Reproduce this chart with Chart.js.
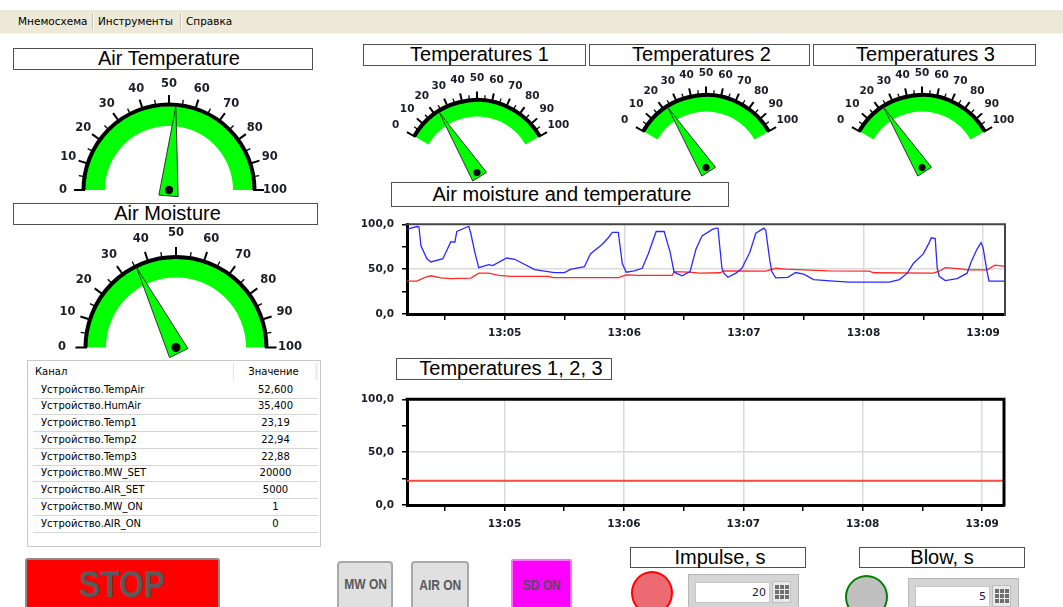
<!DOCTYPE html>
<html lang="ru"><head><meta charset="utf-8"><title>Мнемосхема</title>
<script src="https://cdn.jsdelivr.net/npm/chart.js@4.4.1/dist/chart.umd.min.js"></script>
<style>
html,body{margin:0;padding:0;background:#fff}
body{position:relative;width:1063px;height:607px;overflow:hidden;font-family:"DejaVu Sans",Verdana,sans-serif}
#menu{position:absolute;left:0;top:10px;width:1063px;height:23px;background:#ece9d8;border-bottom:1px solid #f4f3ee}
.mi{position:absolute;top:0;line-height:23px;font-size:10.5px;color:#000}
.ms{position:absolute;top:3px;width:1px;height:17px;background:#c8c5b6;box-shadow:1px 0 0 #fff}
.tb{position:absolute;box-sizing:border-box;border:1.5px solid #505050;background:#fff;font-family:"Liberation Sans",Arial,sans-serif;font-size:20px;text-align:center;color:#000;white-space:nowrap}
canvas{position:absolute}
#tbl{position:absolute;left:27px;top:360px;width:292px;height:185px;border:1px solid #c9c9c9;background:#fff;font-size:10px;color:#000}
.row{position:absolute;left:5px;width:285px;height:16px;border-bottom:1px solid #d6d6d6}
.c1{position:absolute;left:8px;top:0;line-height:16px;white-space:nowrap}
.c2{position:absolute;left:200px;width:85px;top:0;line-height:16px;text-align:center}
.btn{position:absolute;box-sizing:border-box;text-align:center;font-family:"Liberation Sans",Arial,sans-serif;font-weight:bold;color:#5a5a5a;overflow:hidden;white-space:nowrap}
.btn span{display:inline-block}
.panel{position:absolute;box-sizing:border-box;background:#d5d5d5;border:1px solid #b6b6b6}
.field{position:absolute;box-sizing:border-box;background:#fff;border:1px solid #c6c6c6;font-size:11px;color:#1a1a3a;text-align:right;padding-right:3px;line-height:19px}
.kp{position:absolute;box-sizing:border-box;width:19px;height:22px;background:#e9e9e9;border:1px solid #bdbdbd;display:grid;grid-template-columns:4px 4px 4px;grid-auto-rows:4px;gap:1px;padding:3px 2px;justify-content:center;align-content:center}
.kp i{display:block;background:#6e6e6e}
</style></head><body>

<div id="menu">
  <div class="mi" style="left:18px">Мнемосхема</div>
  <div class="ms" style="left:92px"></div>
  <div class="mi" style="left:98px">Инструменты</div>
  <div class="ms" style="left:180px"></div>
  <div class="mi" style="left:186px">Справка</div>
</div>

<div id="titles"></div>
<div id="tbl"></div>

<div class="btn" style="left:25px;top:558px;width:195px;height:56px;background:#ff0000;border:2px solid #8c8c8c;border-radius:3px;font-size:37px;line-height:50px"><span style="transform:scaleX(0.86)">STOP</span></div>
<div class="btn" style="left:337px;top:561px;width:56px;height:52px;background:#e0e0e0;border:2px solid #a9a9a9;border-radius:4px;font-size:15px;line-height:42px"><span style="transform:scaleX(0.8)">MW ON</span></div>
<div class="btn" style="left:411px;top:561px;width:58px;height:52px;background:#e0e0e0;border:2px solid #a9a9a9;border-radius:4px;font-size:15px;line-height:44px"><span style="transform:scaleX(0.8)">AIR ON</span></div>
<div class="btn" style="left:511px;top:559px;width:61px;height:54px;background:#ff00ff;border:2px solid #ff70ff;border-radius:2px;font-size:15px;line-height:48px;color:#5a4a5a"><span style="transform:scaleX(0.8)">SD ON</span></div>

<div style="position:absolute;left:631px;top:571px;width:42px;height:44px;box-sizing:border-box;border-radius:50%;background:#ec6b72;border:2px solid #ff0000"></div>
<div class="panel" style="left:688px;top:574px;width:111px;height:40px"></div>
<div class="field" style="left:695px;top:582px;width:75px;height:21px" id="impulseField"></div>
<div class="kp" style="left:772px;top:581px"><i></i><i></i><i></i><i></i><i></i><i></i><i></i><i></i><i></i></div>

<div style="position:absolute;left:845px;top:575px;width:43px;height:44px;box-sizing:border-box;border-radius:50%;background:#c0c0c0;border:2px solid #008000"></div>
<div class="panel" style="left:908px;top:578px;width:111px;height:36px"></div>
<div class="field" style="left:915px;top:586px;width:75px;height:21px" id="blowField"></div>
<div class="kp" style="left:992px;top:585px"><i></i><i></i><i></i><i></i><i></i><i></i><i></i><i></i><i></i></div>

<canvas id="c1" width="660" height="135" style="left:355px;top:210px"></canvas>
<canvas id="c2" width="660" height="150" style="left:355px;top:385px"></canvas>

<script>
// ---------------- DATA ----------------
const gaugeNames = ['Air Temperature', 'Air Moisture', 'Temperatures 1', 'Temperatures 2', 'Temperatures 3'];
const gaugeValues = [52.6, 35.4, 23.19, 22.94, 22.88];
const gaugeTickLabels = [0, 10, 20, 30, 40, 50, 60, 70, 80, 90, 100];
const gaugeMin = 0, gaugeMax = 100, gaugeMajorStep = 10, gaugeMinorStep = 5;

// time = seconds after 13:04:00
const timeBase = '13:04';
const timeMin = 11, timeMax = 311;
const xTickValues = [30, 60, 90, 120, 150, 180, 210, 240, 270, 300];
const yTickValues = [0, 25, 50, 75, 100];

const humTimes = [11,16,17,18,21,23,29,33,35,36,42,43,45,47,52,54,61,65,75,85,90,93,100,103,109,112,114,117,119,121,125,129,132,136,140,143,145,149,153,156,159,164,166,167,169,170,172,176,179,183,186,190,191,193,194,196,202,206,210,215,225,233,253,258,262,265,270,273,274,276,277,278,281,287,292,294,297,299,300,302,303,311];
const humValues = [94.6,97.5,97,76,61.6,58,61.6,80.6,80,92,97.8,90,69,51.6,55,54,62.4,61,49.5,46.2,46.2,49.8,52.7,67,77.8,85,91,91,56.3,46.6,48,50.9,67,92,92,69,46.6,42.6,47.3,72.4,87,94,95.7,95.7,51,45.5,40.9,45.5,51,68.8,90,95.7,93,60,47.3,40.2,40.9,46.2,44.4,38.4,36.6,35.5,35.5,38.4,45.5,56.3,67,79.6,85,84,51,42,37.3,39.4,45.5,58,72.4,79.6,74,47.3,36.6,36.6];

const airTimes = [11,16,20,23,28,33,43,47,52,57,63,82,84,117,121,127,144,145,152,158,168,170,191,196,201,222,243,245,275,278,281,289,292,302,306,311];
const airValues = [36.6,36.6,40.9,42.6,40.2,39.4,40,45.5,45.5,43,42,42,40.5,40.5,43.7,43,43,47.3,46.6,45.5,46,48,47.7,51,50,48,47.7,46,45.5,47.7,51.6,50.2,49.3,49.3,54.5,53];

const t123Times = [11, 311];
const temp1Values = [23.19, 23.19];
const temp2Values = [22.94, 22.94];
const temp3Values = [22.88, 22.88];

const tableChannels = ['Устройство.TempAir','Устройство.HumAir','Устройство.Temp1','Устройство.Temp2','Устройство.Temp3','Устройство.MW_SET','Устройство.AIR_SET','Устройство.MW_ON','Устройство.AIR_ON'];
const tableValues = ['52,600','35,400','23,19','22,94','22,88','20000','5000','1','0'];
const tableHeaders = ['Канал', 'Значение'];

const impulseValue = 20;
const blowValue = 5;

const titleTexts = ['Air Temperature','Air Moisture','Temperatures 1','Temperatures 2','Temperatures 3','Air moisture and temperature','Temperatures 1, 2, 3','Impulse, s','Blow, s'];

// ---------------- LAYOUT (positions / styles) ----------------
// left, top, width, height, text shift
const titleBoxes = [
  [13,48,300,22,12],[13,203,305,22,4],[363,44,223,22,10],[589,44,221,22,4],[813,44,223,22,2],
  [391,182,338,25,4],[396,358,216,22,14],[630,547,176,21,4],[859,547,166,21,0]
];
const gaugeLayout = [
  {cx:169, cy:190, R:84, inner:64, sweep:180, labelR:106, font:11.5},
  {cx:176, cy:347, R:89, inner:70, sweep:180, labelR:114, font:11.5},
  {cx:477, cy:172, R:71, inner:56, sweep:120, labelR:94, font:10.5},
  {cx:706, cy:167, R:71, inner:56, sweep:120, labelR:94, font:10.5},
  {cx:922, cy:167, R:71, inner:56, sweep:120, labelR:94, font:10.5}
];

// ---------------- STATIC HTML PARTS ----------------
const titles = document.getElementById('titles');
titleTexts.forEach((t, i) => {
  const [l, tp, w, h, sh] = titleBoxes[i];
  const d = document.createElement('div');
  d.className = 'tb';
  d.style.cssText = `left:${l}px;top:${tp}px;width:${w}px;height:${h}px;line-height:${h-3}px;padding-left:${sh}px`;
  d.textContent = t;
  titles.appendChild(d);
});

const tbl = document.getElementById('tbl');
tbl.innerHTML =
  `<div style="position:absolute;left:7px;top:0;line-height:21px">${tableHeaders[0]}</div>` +
  `<div style="position:absolute;left:205px;top:2px;width:1px;height:17px;background:#e2e2e2"></div>` +
  `<div style="position:absolute;left:205px;width:81px;top:0;line-height:21px;text-align:center">${tableHeaders[1]}</div>` +
  `<div style="position:absolute;left:287px;top:2px;width:3px;height:17px;background:#efefef"></div>`;
tableChannels.forEach((ch, i) => {
  const r = document.createElement('div');
  r.className = 'row';
  r.style.top = (20.5 + i * 16.75) + 'px';
  r.innerHTML = `<div class="c1">${ch}</div><div class="c2">${tableValues[i]}</div>`;
  tbl.appendChild(r);
});
document.getElementById('impulseField').textContent = impulseValue;
document.getElementById('blowField').textContent = blowValue;

// ---------------- GAUGES ----------------
const gaugePlugin = {
  id: 'gauge',
  afterDatasetsDraw(chart, args, o) {
    const arc = chart.getDatasetMeta(0).data[0];
    const {x, y, startAngle: a0, endAngle: a1, outerRadius: R} = arc;
    const ctx = chart.ctx;
    const ang = v => a0 + (v - gaugeMin) / (gaugeMax - gaugeMin) * (a1 - a0);
    ctx.save();
    ctx.strokeStyle = '#000';
    ctx.lineWidth = 4;
    ctx.beginPath(); ctx.arc(x, y, R + 1.5, a0, a1); ctx.stroke();
    for (let v = gaugeMin; v <= gaugeMax; v += gaugeMinorStep) {
      const major = (v - gaugeMin) % gaugeMajorStep === 0;
      const a = ang(v), c = Math.cos(a), s = Math.sin(a);
      const r1 = R, r2 = R + 3.5 + (major ? 0.09 * R : 0.045 * R);
      ctx.lineWidth = major ? 2 : 1.3;
      ctx.beginPath(); ctx.moveTo(x + c * r1, y + s * r1); ctx.lineTo(x + c * r2, y + s * r2); ctx.stroke();
    }
    ctx.fillStyle = '#1c1c28';
    ctx.font = `bold ${o.font}px "DejaVu Sans", Verdana, sans-serif`;
    ctx.textAlign = 'center'; ctx.textBaseline = 'middle';
    gaugeTickLabels.forEach(v => {
      const a = ang(v);
      ctx.fillText(String(v), x + Math.cos(a) * o.labelR, y + Math.sin(a) * o.labelR);
    });
    const a = ang(o.value), c = Math.cos(a), s = Math.sin(a);
    const back = 0.07 * R, hw = 0.115 * R;
    const bx = x - c * back, by = y - s * back;
    ctx.beginPath();
    ctx.moveTo(x + c * R, y + s * R);
    ctx.lineTo(bx - s * hw, by + c * hw);
    ctx.lineTo(bx + s * hw, by - c * hw);
    ctx.closePath();
    ctx.fillStyle = '#00ff00'; ctx.fill();
    ctx.lineWidth = 1; ctx.strokeStyle = '#333'; ctx.stroke();
    ctx.beginPath(); ctx.arc(x, y, 0.05 * R, 0, Math.PI * 2); ctx.fillStyle = '#000'; ctx.fill();
    ctx.restore();
  }
};

gaugeLayout.forEach((g, i) => {
  const cv = document.createElement('canvas');
  cv.width = 2 * g.R + 140; cv.height = 2 * g.R + 40;
  document.body.appendChild(cv);
  const chart = new Chart(cv, {
    type: 'doughnut',
    data: {labels: [gaugeNames[i]], datasets: [{data: [gaugeMax - gaugeMin], backgroundColor: '#00ff00', borderWidth: 0}]},
    options: {
      responsive: false, animation: false, events: [],
      rotation: -g.sweep / 2, circumference: g.sweep,
      radius: g.R, cutout: (g.inner / g.R * 100) + '%',
      layout: {padding: 0},
      plugins: {legend: {display: false}, tooltip: {enabled: false},
        gauge: {value: gaugeValues[i], labelR: g.labelR, font: g.font}}
    },
    plugins: [gaugePlugin]
  });
  const arc = chart.getDatasetMeta(0).data[0];
  cv.style.left = (g.cx - arc.x) + 'px';
  cv.style.top = (g.cy - arc.y) + 'px';
});

// ---------------- LINE CHARTS ----------------
const framePlugin = {
  id: 'frame',
  afterDraw(chart, args, o) {
    const {left, top, right, bottom} = chart.chartArea;
    const ctx = chart.ctx;
    ctx.save();
    ctx.strokeStyle = o.color; ctx.lineWidth = o.width;
    ctx.beginPath(); ctx.moveTo(left - 1.5, top); ctx.lineTo(right, top); ctx.lineTo(right, bottom + 1.5); ctx.stroke();
    ctx.restore();
  }
};

function fmtTime(v) {
  const [h, m] = timeBase.split(':').map(Number);
  const total = h * 60 + m + v / 60;
  const hh = Math.floor(total / 60), mm = Math.round(total % 60);
  return hh + ':' + String(mm).padStart(2, '0');
}
const tickFont = {family: '"DejaVu Sans", Verdana, sans-serif', size: 10.5, weight: 'bold'};

function lineOptions(padTop, padRight, xHeight, frame) {
  return {
    responsive: false, animation: false, events: [],
    layout: {padding: {top: padTop, right: padRight, left: 0, bottom: 0}},
    plugins: {legend: {display: false}, tooltip: {enabled: false}, frame: frame},
    elements: {point: {radius: 0}, line: {tension: 0}},
    scales: {
      x: {
        type: 'linear', min: timeMin, max: timeMax,
        afterBuildTicks: s => { s.ticks = xTickValues.map(v => ({value: v})); },
        afterFit: s => { s.height = xHeight; },
        ticks: {autoSkip: false, maxRotation: 0, minRotation: 0, padding: 7, color: '#1c1c28', font: tickFont,
          callback: v => (v % 60 === 0 ? fmtTime(v) : '')},
        grid: {color: c => (c.tick && c.tick.value % 60 === 0 ? '#dadada' : 'rgba(0,0,0,0)'), lineWidth: 1.5,
          tickColor: '#000', tickLength: 6, tickWidth: 1.5},
        border: {color: '#000', width: 3}
      },
      y: {
        min: 0, max: 100,
        afterBuildTicks: s => { s.ticks = yTickValues.map(v => ({value: v})); },
        afterFit: s => { s.width = 52; },
        ticks: {autoSkip: false, padding: 8, color: '#1c1c28', font: tickFont,
          callback: v => (v % 50 === 0 ? v.toFixed(1).replace('.', ',') : '')},
        grid: {color: c => (c.tick && c.tick.value === 50 ? '#dadada' : 'rgba(0,0,0,0)'), lineWidth: 1.5,
          tickColor: '#000', tickLength: 5, tickWidth: 1.5},
        border: {color: '#000', width: 3}
      }
    }
  };
}
const toXY = (ts, vs) => ts.map((t, i) => ({x: t, y: vs[i]}));

new Chart(document.getElementById('c1'), {
  type: 'line',
  data: {datasets: [
    {label: 'HumAir', data: toXY(humTimes, humValues), borderColor: '#2a2aff', borderWidth: 1.3},
    {label: 'TempAir', data: toXY(airTimes, airValues), borderColor: '#ff2a2a', borderWidth: 1.3}
  ]},
  options: lineOptions(11, 10, 31, {color: '#444', width: 2}),
  plugins: [framePlugin]
});

new Chart(document.getElementById('c2'), {
  type: 'line',
  data: {datasets: [
    {label: 'Temp3', data: toXY(t123Times, temp3Values), borderColor: '#ff4a4a', borderWidth: 1.5},
    {label: 'Temp2', data: toXY(t123Times, temp2Values), borderColor: '#ff4a4a', borderWidth: 1.5},
    {label: 'Temp1', data: toXY(t123Times, temp1Values), borderColor: '#ff4a4a', borderWidth: 1.5}
  ]},
  options: lineOptions(10, 11, 30, {color: '#000', width: 3}),
  plugins: [framePlugin]
});
</script>
</body></html>
